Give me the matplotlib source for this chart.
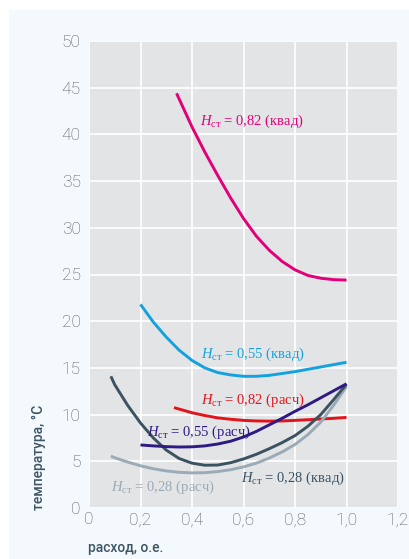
import matplotlib
matplotlib.use("Agg")
import matplotlib.pyplot as plt
from matplotlib.patches import Rectangle

# curve data: flow (p.u.) vs temperature (deg C)
x_082_kvad = [0.34, 0.40, 0.45, 0.50, 0.55, 0.60, 0.65, 0.70, 0.75, 0.80, 0.85, 0.90, 0.95, 1.00]
t_082_kvad = [44.4, 40.8, 38.1, 35.6, 33.2, 31.0, 29.1, 27.6, 26.4, 25.5, 24.9, 24.6, 24.45, 24.4]

x_055_kvad = [0.20, 0.25, 0.30, 0.35, 0.40, 0.45, 0.50, 0.55, 0.60, 0.65, 0.70, 0.75, 0.80, 0.85, 0.90, 0.95, 1.00]
t_055_kvad = [21.8, 19.9, 18.3, 16.9, 15.8, 15.0, 14.5, 14.25, 14.1, 14.1, 14.2, 14.4, 14.6, 14.85, 15.1, 15.35, 15.6]

x_082_rasch = [0.33, 0.40, 0.45, 0.50, 0.55, 0.60, 0.65, 0.70, 0.75, 0.80, 0.85, 0.90, 0.95, 1.00]
t_082_rasch = [10.75, 10.2, 9.9, 9.65, 9.5, 9.38, 9.32, 9.3, 9.32, 9.38, 9.45, 9.53, 9.6, 9.7]

x_055_rasch = [0.20, 0.25, 0.30, 0.35, 0.40, 0.45, 0.50, 0.55, 0.60, 0.65, 0.70, 0.75, 0.80, 0.85, 0.90, 0.95, 1.00]
t_055_rasch = [6.75, 6.65, 6.57, 6.53, 6.55, 6.65, 6.85, 7.15, 7.6, 8.2, 8.9, 9.6, 10.35, 11.05, 11.8, 12.55, 13.3]

x_028_kvad = [0.085, 0.10, 0.15, 0.20, 0.25, 0.30, 0.35, 0.40, 0.45, 0.50, 0.55, 0.60, 0.65, 0.70, 0.75, 0.80, 0.85, 0.90, 0.95, 1.00]
t_028_kvad = [14.1, 13.2, 11.0, 9.1, 7.5, 6.2, 5.3, 4.8, 4.58, 4.6, 4.85, 5.25, 5.75, 6.35, 7.0, 7.75, 8.75, 10.0, 11.6, 13.25]

x_028_rasch = [0.085, 0.10, 0.15, 0.20, 0.25, 0.30, 0.35, 0.40, 0.45, 0.50, 0.55, 0.60, 0.65, 0.70, 0.75, 0.80, 0.85, 0.90, 0.95, 1.00]
t_028_rasch = [5.55, 5.38, 4.92, 4.52, 4.2, 3.97, 3.82, 3.76, 3.78, 3.9, 4.1, 4.4, 4.8, 5.35, 6.0, 6.8, 7.85, 9.2, 11.0, 13.0]

x_ticks = [0, 0.2, 0.4, 0.6, 0.8, 1.0, 1.2]
x_tick_labels = ["0", "0,2", "0,4", "0,6", "0,8", "1,0", "1,2"]
y_ticks = [0, 5, 10, 15, 20, 25, 30, 35, 40, 45, 50]

plt.rcParams["mathtext.fontset"] = "custom"
plt.rcParams["mathtext.rm"] = "Liberation Serif"
plt.rcParams["mathtext.it"] = "Liberation Serif:italic"

W, H = 409, 559
fig = plt.figure(figsize=(W / 100, H / 100), dpi=100, facecolor="white")
fig.patches.append(Rectangle((9 / W, 0), 400 / W, (H - 10) / H, transform=fig.transFigure,
                             facecolor="#f3f9fd", edgecolor="none", zorder=-10))

ax = fig.add_axes([89 / W, 1 - 508 / H, 309 / W, 467 / H])
ax.set_facecolor("#e3e4e6")
ax.set_xlim(0, 1.2)
ax.set_ylim(0, 50)
for s in ax.spines.values():
    s.set_visible(False)
ax.set_xticks(x_ticks)
ax.set_xticklabels(x_tick_labels)
ax.set_yticks(y_ticks)
ax.tick_params(length=0, labelsize=12.5, labelcolor="#555a60")
ax.tick_params(axis="y", pad=6)
ax.tick_params(axis="x", pad=3)
for lab in ax.get_xticklabels() + ax.get_yticklabels():
    lab.set_fontfamily("Roboto")
    lab.set_fontweight("light")
ax.grid(color="white", linewidth=1.2)
ax.set_axisbelow(True)

lw = 2.1
curves = [
    (x_082_kvad, t_082_kvad, "#e2007a"),
    (x_055_kvad, t_055_kvad, "#14a2df"),
    (x_082_rasch, t_082_rasch, "#e3131b"),
    (x_028_rasch, t_028_rasch, "#9aaab6"),
    (x_028_kvad, t_028_kvad, "#3b5260"),
    (x_055_rasch, t_055_rasch, "#2e1985"),
]
for xs, ts, c in curves:
    ax.plot(xs, ts, color=c, lw=lw, solid_capstyle="butt", solid_joinstyle="round")

labels = [
    (0.432, 41.4, "0,82 (квад)", "#e2007a"),
    (0.436, 16.45, "0,55 (квад)", "#14a2df"),
    (0.436, 11.5, "0,82 (расч)", "#e3131b"),
    (0.227, 8.07, "0,55 (расч)", "#2e1985"),
    (0.591, 3.15, "0,28 (квад)", "#3b5260"),
    (0.084, 2.2, "0,28 (расч)", "#9aaab6"),
]
for lx, ly, txt, c in labels:
    ax.text(lx, ly, r"$H_{\mathrm{ст}}$ = " + txt, color=c, fontsize=10.5,
            family="Liberation Serif", ha="left", va="center")

axis_color = "#3e5565"
fig.text(39 / W, 1 - 510 / H, "температура, °C", rotation=90, ha="center", va="bottom",
         fontsize=10, color=axis_color, family="Roboto", fontweight="medium")
fig.text(88 / W, 1 - 548 / H, "расход, о.е.", ha="left", va="center",
         fontsize=10, color=axis_color, family="Roboto", fontweight="medium")

fig.savefig("out.png", dpi=100)
